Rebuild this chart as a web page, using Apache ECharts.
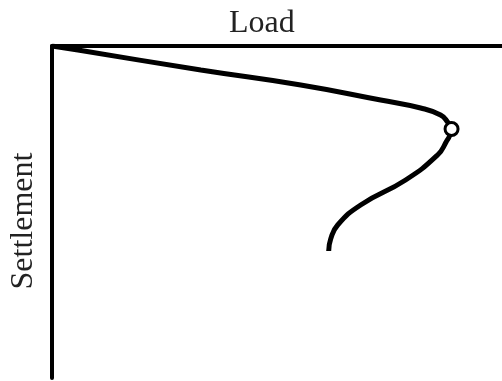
<!DOCTYPE html>
<html>
<head>
<meta charset="utf-8">
<script src="https://cdn.jsdelivr.net/npm/echarts@6/dist/echarts.min.js"></script>
<style>
html, body { margin: 0; padding: 0; background: #fff; }
#chart { width: 502px; height: 381px; }
</style>
</head>
<body>
<div id="chart"></div>
<script>
// load-settlement curve (load to the right, settlement downwards)
var loadVals = [0, 26, 149, 249, 329, 369, 389, 396, 400, 394, 386, 354, 309, 286, 279, 277];
var settleVals = [0, 4, 24, 39, 54, 62, 69, 76, 83, 97, 109, 134, 159, 179, 193, 205];
// the marked point (peak load)
var peakLoad = [400];
var peakSettle = [83];

var curve = [];
for (var i = 0; i < loadVals.length; i++) {
	curve.push([loadVals[i], settleVals[i]]);
}
var peak = [[peakLoad[0], peakSettle[0]]];

var chart = echarts.init(document.getElementById("chart"));

var option = {
	animation: false,
	grid: {
		left: 51.5,
		right: 0.5,
		top: 46,
		bottom: 3
	},
	xAxis: {
		type: 'value',
		position: 'top',
		min: 0,
		max: 450,
		name: 'Load',
		nameLocation: 'middle',
		nameGap: 6,
		nameTextStyle: { fontFamily: 'Liberation Serif', fontSize: 32, color: '#222', padding: [0, 30, 0, 0] },
		axisLine: { onZero: false, lineStyle: { color: '#000', width: 4 } },
		axisTick: { show: false },
		axisLabel: { show: false },
		splitLine: { show: false }
	},
	yAxis: {
		type: 'value',
		inverse: true,
		min: 0,
		max: 332,
		name: 'Settlement',
		nameLocation: 'middle',
		nameGap: 12,
		nameRotate: 90,
		nameTextStyle: { fontFamily: 'Liberation Serif', fontSize: 32, color: '#222', padding: [0, 18, 0, 0] },
		axisLine: { onZero: false, lineStyle: { color: '#000', width: 4 } },
		axisTick: { show: false },
		axisLabel: { show: false },
		splitLine: { show: false }
	},
	series: [
		{
			type: 'line',
			data: curve,
			smooth: 0.5,
			showSymbol: false,
			lineStyle: { color: '#000', width: 5 }
		},
		{
			type: 'scatter',
			data: peak,
			symbol: 'circle',
			symbolSize: 13,
			itemStyle: { color: '#fff', borderColor: '#000', borderWidth: 3, opacity: 1 },
			z: 5
		}
	]
};
chart.setOption(option);
</script>
</body>
</html>
